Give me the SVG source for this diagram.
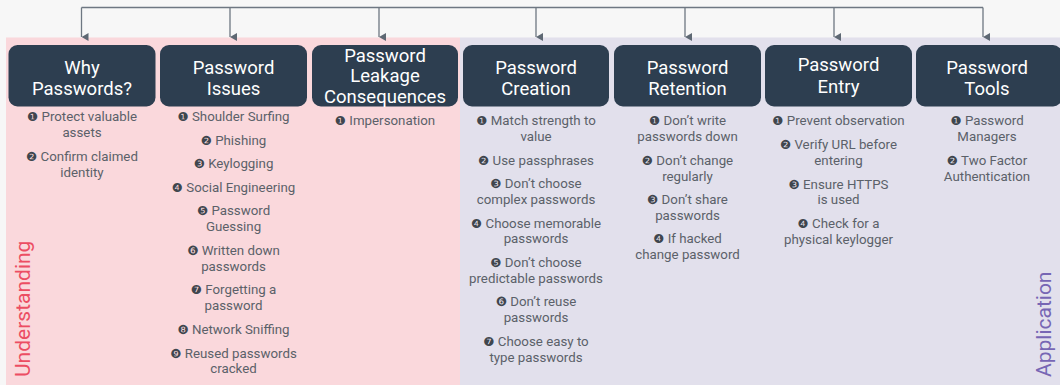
<svg xmlns="http://www.w3.org/2000/svg" width="1060" height="385" viewBox="0 0 1060 385">
  <defs>
    <marker id="arrow" viewBox="0 0 8 7" refX="4" refY="7" markerWidth="8" markerHeight="7" markerUnits="userSpaceOnUse" orient="auto-start-reverse">
      <path d="M0,0 L8,0 L4,7 Z" fill="#5e6873"/>
    </marker>
    <style>
      .node rect { fill: #2d3e50; }
      .title { font-family: Roboto, "Liberation Sans", sans-serif; font-size: 18.5px; fill: #ffffff; text-anchor: middle; }
      .item { font-family: Roboto, "DejaVu Sans", sans-serif; font-size: 13.3px; fill: #5b6169; text-anchor: middle; }
      .bul { font-family: "DejaVu Sans", sans-serif; font-size: 12.5px; fill: #3f464e; }
      .band-label { font-family: Roboto, "Liberation Sans", sans-serif; font-size: 21px; }
      .conn { stroke: #6e7782; stroke-width: 1.3; fill: none; }
    </style>
  </defs>

  <!-- canvas and phase bands -->
  <rect x="0" y="0" width="1060" height="385" fill="#f7f7f7"/>
  <rect x="6" y="37.5" width="454" height="347.5" fill="#fad8dc"/>
  <rect x="460" y="37.5" width="600" height="347.5" fill="#e2e0ec"/>
  <text class="band-label" transform="translate(30,377) rotate(-90)" fill="#ec4d63">Understanding</text>
  <text class="band-label" transform="translate(1051,377) rotate(-90)" fill="#7766b4">Application</text>

  <!-- connectors from the root bar down to each topic -->
  <g id="connectors">
    <path class="conn" d="M81.5,7.5 H983" stroke="#8b939c"/>
    <path class="conn" d="M81.5,7.5 V37" marker-end="url(#arrow)"/>
    <path class="conn" d="M230,7.5 V37" marker-end="url(#arrow)"/>
    <path class="conn" d="M379,7.5 V37" marker-end="url(#arrow)"/>
    <path class="conn" d="M536,7.5 V37" marker-end="url(#arrow)"/>
    <path class="conn" d="M685,7.5 V37" marker-end="url(#arrow)"/>
    <path class="conn" d="M834,7.5 V37" marker-end="url(#arrow)"/>
    <path class="conn" d="M983,7.5 V37" marker-end="url(#arrow)"/>
  </g>

  <g id="why-passwords" class="node">
    <rect x="8.5" y="45" width="147" height="61.5" rx="9"/>
    <text class="title" x="82" y="73.5">Why</text>
    <text class="title" x="82" y="95">Passwords?</text>
    <text class="item" x="82" y="121"><tspan class="bul">❶</tspan> Protect valuable<tspan x="82" dy="16">assets</tspan></text>
    <text class="item" x="82" y="161"><tspan class="bul">❷</tspan> Confirm claimed<tspan x="82" dy="16">identity</tspan></text>
  </g>

  <g id="password-issues" class="node">
    <rect x="160" y="45" width="147" height="61.5" rx="9"/>
    <text class="title" x="233.5" y="73.5">Password</text>
    <text class="title" x="233.5" y="95">Issues</text>
    <text class="item" x="233.5" y="121"><tspan class="bul">❶</tspan> Shoulder Surfing</text>
    <text class="item" x="233.5" y="144.5"><tspan class="bul">❷</tspan> Phishing</text>
    <text class="item" x="233.5" y="168"><tspan class="bul">❸</tspan> Keylogging</text>
    <text class="item" x="233.5" y="191.5"><tspan class="bul">❹</tspan> Social Engineering</text>
    <text class="item" x="233.5" y="215"><tspan class="bul">❺</tspan> Password<tspan x="233.5" dy="16">Guessing</tspan></text>
    <text class="item" x="233.5" y="255"><tspan class="bul">❻</tspan> Written down<tspan x="233.5" dy="16">passwords</tspan></text>
    <text class="item" x="233.5" y="294"><tspan class="bul">❼</tspan> Forgetting a<tspan x="233.5" dy="16">password</tspan></text>
    <text class="item" x="233.5" y="334"><tspan class="bul">❽</tspan> Network Sniffing</text>
    <text class="item" x="233.5" y="357.5"><tspan class="bul">❾</tspan> Reused passwords<tspan x="233.5" dy="15.5">cracked</tspan></text>
  </g>

  <g id="leakage-consequences" class="node">
    <rect x="312" y="45" width="146" height="61.5" rx="9"/>
    <text class="title" x="385" y="61.5">Password</text>
    <text class="title" x="385" y="82">Leakage</text>
    <text class="title" x="385" y="102.5">Consequences</text>
    <text class="item" x="385" y="125"><tspan class="bul">❶</tspan> Impersonation</text>
  </g>

  <g id="password-creation" class="node">
    <rect x="463" y="45" width="146" height="61.5" rx="9"/>
    <text class="title" x="536" y="73.5">Password</text>
    <text class="title" x="536" y="95">Creation</text>
    <text class="item" x="536" y="125"><tspan class="bul">❶</tspan> Match strength to<tspan x="536" dy="16">value</tspan></text>
    <text class="item" x="536" y="164.5"><tspan class="bul">❷</tspan> Use passphrases</text>
    <text class="item" x="536" y="188"><tspan class="bul">❸</tspan> Don’t choose<tspan x="536" dy="16">complex passwords</tspan></text>
    <text class="item" x="536" y="227.5"><tspan class="bul">❹</tspan> Choose memorable<tspan x="536" dy="15.5">passwords</tspan></text>
    <text class="item" x="536" y="267"><tspan class="bul">❺</tspan> Don’t choose<tspan x="536" dy="16">predictable passwords</tspan></text>
    <text class="item" x="536" y="306"><tspan class="bul">❻</tspan> Don’t reuse<tspan x="536" dy="16">passwords</tspan></text>
    <text class="item" x="536" y="346"><tspan class="bul">❼</tspan> Choose easy to<tspan x="536" dy="15.5">type passwords</tspan></text>
  </g>

  <g id="password-retention" class="node">
    <rect x="614" y="45" width="147" height="61.5" rx="9"/>
    <text class="title" x="687.5" y="73.5">Password</text>
    <text class="title" x="687.5" y="95">Retention</text>
    <text class="item" x="687.5" y="125"><tspan class="bul">❶</tspan> Don’t write<tspan x="687.5" dy="16">passwords down</tspan></text>
    <text class="item" x="687.5" y="165"><tspan class="bul">❷</tspan> Don’t change<tspan x="687.5" dy="15.5">regularly</tspan></text>
    <text class="item" x="687.5" y="204"><tspan class="bul">❸</tspan> Don’t share<tspan x="687.5" dy="16">passwords</tspan></text>
    <text class="item" x="687.5" y="243"><tspan class="bul">❹</tspan> If hacked<tspan x="687.5" dy="16">change password</tspan></text>
  </g>

  <g id="password-entry" class="node">
    <rect x="765" y="45" width="147" height="61.5" rx="9"/>
    <text class="title" x="838.5" y="71">Password</text>
    <text class="title" x="838.5" y="92.5">Entry</text>
    <text class="item" x="838.5" y="125"><tspan class="bul">❶</tspan> Prevent observation</text>
    <text class="item" x="838.5" y="149"><tspan class="bul">❷</tspan> Verify URL before<tspan x="838.5" dy="15.5">entering</tspan></text>
    <text class="item" x="838.5" y="188.5"><tspan class="bul">❸</tspan> Ensure HTTPS<tspan x="838.5" dy="15.5">is used</tspan></text>
    <text class="item" x="838.5" y="227.5"><tspan class="bul">❹</tspan> Check for a<tspan x="838.5" dy="16">physical keylogger</tspan></text>
  </g>

  <g id="password-tools" class="node">
    <rect x="916" y="45" width="146" height="61.5" rx="9"/>
    <text class="title" x="987" y="73.5">Password</text>
    <text class="title" x="987" y="95">Tools</text>
    <text class="item" x="987" y="125"><tspan class="bul">❶</tspan> Password<tspan x="987" dy="16">Managers</tspan></text>
    <text class="item" x="987" y="165"><tspan class="bul">❷</tspan> Two Factor<tspan x="987" dy="15.5">Authentication</tspan></text>
  </g>
</svg>
